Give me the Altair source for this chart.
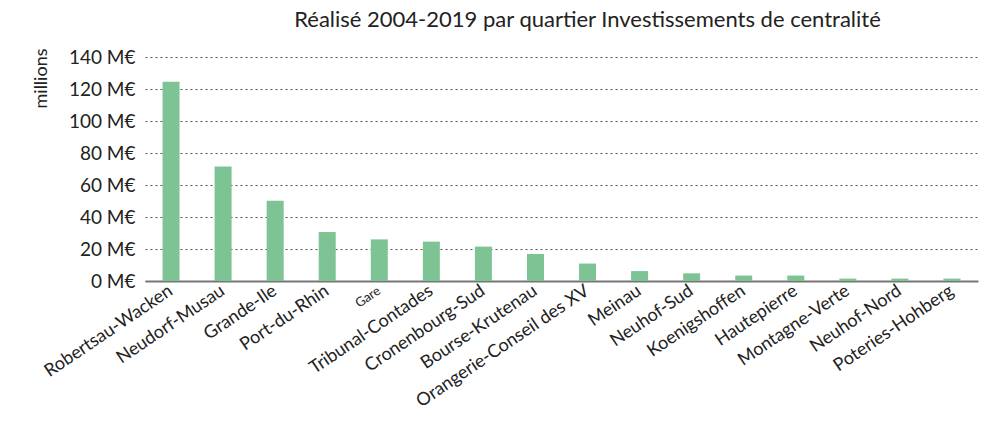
import altair as alt
import pandas as pd

quartiers = ["Robertsau-Wacken", "Neudorf-Musau", "Grande-Ile", "Port-du-Rhin", "Gare",
             "Tribunal-Contades", "Cronenbourg-Sud", "Bourse-Krutenau",
             "Orangerie-Conseil des XV", "Meinau", "Neuhof-Sud", "Koenigshoffen",
             "Hautepierre", "Montagne-Verte", "Neuhof-Nord", "Poteries-Hohberg"]
montants = [124.6, 71.5, 50.2, 30.6, 26.0, 24.6, 21.5, 16.9, 10.9, 6.2, 4.8, 3.4, 3.4, 1.5, 1.5, 1.5]
y_ticks = [0, 20, 40, 60, 80, 100, 120, 140]

df = pd.DataFrame({"quartier": quartiers, "montant": montants})

FONT = "Lato"

chart = alt.Chart(df).mark_bar(color="#7DC394", size=17).encode(
    x=alt.X("quartier:N", sort=quartiers, title=None,
            scale=alt.Scale(paddingInner=0, paddingOuter=0),
            axis=alt.Axis(labelAngle=-34, labelAlign="right", labelBaseline="middle",
                          labelFontSize=alt.ExprRef("datum.value === 'Gare' ? 13 : 18"),
                          labelFont=FONT, labelColor="#222", labelPadding=8,
                          ticks=False, domainColor="#777", domainWidth=2,
                          labelOverlap=False, labelLimit=300)),
    y=alt.Y("montant:Q", title="millions",
            scale=alt.Scale(domain=[0, 140], nice=False),
            axis=alt.Axis(values=y_ticks, labelExpr="datum.value + ' M€'",
                          labelFont=FONT, labelFontSize=19, labelColor="#222",
                          labelPadding=10, ticks=False, domain=False,
                          gridDash=[2, 3], gridColor="#555", gridWidth=1,
                          titleFont=FONT, titleFontSize=18, titleFontWeight="normal",
                          titleColor="#222", titleAngle=-90, titleAlign="right",
                          titleBaseline="middle", titleX=-104, titleY=-9)),
).properties(
    width=833, height=224,
    title=alt.TitleParams("Réalisé 2004-2019 par quartier Investissements de centralité",
                          font=FONT, fontSize=22, fontWeight="normal", color="#222",
                          anchor="middle", dx=26, offset=16),
    autosize=alt.AutoSizeParams(type="none"),
    padding={"left": 137, "top": 49, "right": 16, "bottom": 130},
).configure_view(stroke=None)

chart.save("out.html", embed_options={"renderer": "svg", "actions": False})
